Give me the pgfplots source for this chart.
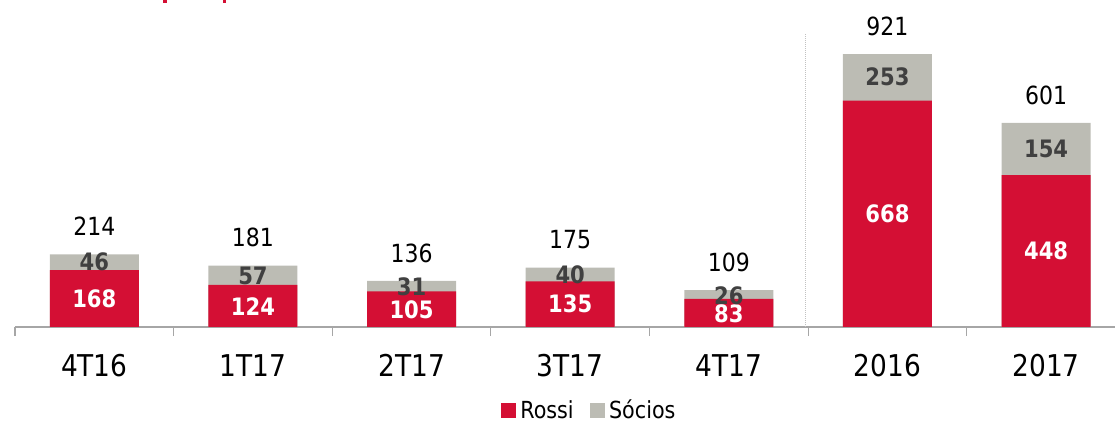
\documentclass[border=0pt]{standalone}
\usepackage{fontspec}
\setmainfont{DejaVu Sans}[FakeStretch=0.88]
\usepackage{pgfplots}
\pgfplotsset{compat=1.18}
\definecolor{rossi}{HTML}{D40F34}
\definecolor{socios}{HTML}{BCBCB4}
\definecolor{lblgray}{HTML}{404040}
\definecolor{axgray}{HTML}{A6A6A6}

\begin{document}
\begin{tikzpicture}
\begin{axis}[
    at={(15pt,93pt)}, anchor=south west,
    scale only axis, width=1100pt, height=327pt,
    xmin=-0.5, xmax=6.434, ymin=0, ymax=965,
    axis x line*=bottom, axis y line=none,
    x axis line style={-, axgray, line width=1.2pt},
    xtick={0,...,6},
    xticklabels={4T16,1T17,2T17,3T17,4T17,2016,2017},
    major tick length=0pt,
    minor xtick={-0.5,0.5,1.5,2.5,3.5,4.5,5.5},
    minor tick length=9pt, tick align=outside,
    tick style={axgray, line width=1.2pt},
    xticklabel style={font=\fontsize{30}{36}\selectfont, yshift=-24pt},
    ytick=\empty,
    clip=false,
    legend style={at={(axis description cs:0.522,-0.254)}, anchor=center,
        draw=none, legend columns=2, font=\fontsize{23.5}{27}\selectfont,
        /tikz/every odd column/.append style={column sep=3pt},
        /tikz/every even column/.append style={column sep=14pt}},
    legend image code/.code={\fill[#1] (0pt,-7pt) rectangle (14pt,7pt);},
]
% Socios bar drawn behind, its top = Rossi + Socios
\addplot[ybar, bar width=89pt, bar shift=0pt, fill=socios, draw=none, forget plot]
    coordinates {(0,214) (1,181) (2,136) (3,175) (4,109) (5,805) (6,602)};
\addplot[ybar, bar width=89pt, bar shift=0pt, fill=rossi, draw=none, forget plot]
    coordinates {(0,168) (1,124) (2,105) (3,135) (4,83) (5,668) (6,448)};
% Rossi labels
\addplot[draw=none, mark=none, forget plot, nodes near coords, point meta=explicit symbolic,
    every node near coord/.append style={anchor=center, text=white,
        font=\fontsize{24}{28}\selectfont\bfseries}]
    coordinates {(0,84)[168] (1,60)[124] (2,50)[105] (3,67.5)[135] (4,40)[83] (5,334)[668] (6,224)[448]};
% Socios labels
\addplot[draw=none, mark=none, forget plot, nodes near coords, point meta=explicit symbolic,
    every node near coord/.append style={anchor=center, text=lblgray,
        font=\fontsize{24}{28}\selectfont\bfseries}]
    coordinates {(0,191)[46] (1,150)[57] (2,120)[31] (3,155)[40] (4,92)[26] (5,739)[253] (6,525)[154]};
% totals
\addplot[draw=none, mark=none, forget plot, nodes near coords, point meta=explicit symbolic,
    every node near coord/.append style={anchor=south, text=black, yshift=15pt,
        font=\fontsize{25}{30}\selectfont}]
    coordinates {(0,214)[214] (1,181)[181] (2,136)[136] (3,175)[175] (4,109)[109] (5,805)[921] (6,602)[601]};
% separator
\addplot[axgray!70, densely dotted, line width=1pt, forget plot]
    coordinates {(4.485,0) (4.485,867)};
\addlegendimage{rossi}
\addlegendentry{Rossi}
\addlegendimage{socios}
\addlegendentry{Sócios}
\end{axis}
\fill[rossi] (163pt,417pt) rectangle (167pt,420pt);
\fill[rossi] (223pt,417pt) rectangle (226pt,420pt);
\pgfresetboundingbox
\useasboundingbox (0pt,0pt) rectangle (1115pt,420pt);
\end{tikzpicture}
\end{document}
